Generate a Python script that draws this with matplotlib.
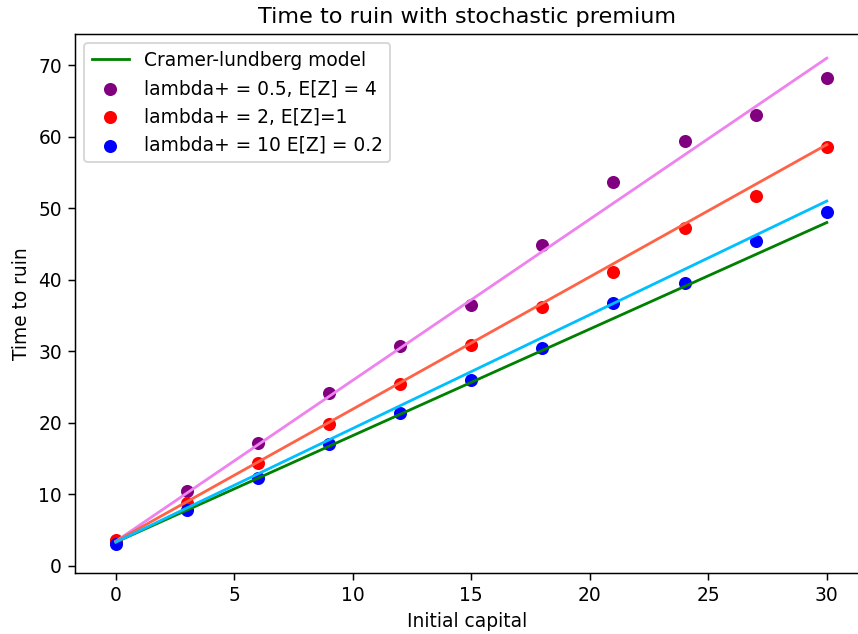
import matplotlib
matplotlib.use("Agg")
import matplotlib.pyplot as plt
import numpy as np

# initial capital grid
capital = [0, 3, 6, 9, 12, 15, 18, 21, 24, 27, 30]

# simulated time to ruin
ruin_05 = [3.5, 10.5, 17.2, 24.2, 30.8, 36.5, 44.9, 53.6, 59.4, 63.1, 68.2]
ruin_2 = [3.6, 8.8, 14.3, 19.8, 25.4, 30.9, 36.2, 41.1, 47.2, 51.7, 58.5]
ruin_10 = [3.0, 7.8, 12.3, 17.0, 21.4, 26.0, 30.5, 36.8, 39.6, 45.4, 49.5]

# fitted lines: (intercept, slope)
cramer_fit = (3.3, 1.49)
fit_10 = (3.3, 1.59)
fit_2 = (3.4, 1.85)
fit_05 = (3.4, 2.253)


def line(fit, x):
    return fit[0] + fit[1] * np.asarray(x, dtype=float)


fig = plt.figure(figsize=(858 / 134, 634 / 134), dpi=134)
ax = fig.add_axes([0.0874, 0.0962, 0.9149, 0.8502])

ax.plot(capital, line(cramer_fit, capital), color='green', label='Cramer-lundberg model')
ax.plot(capital, line(fit_05, capital), color='violet')
ax.plot(capital, line(fit_2, capital), color='tomato')
ax.plot(capital, line(fit_10, capital), color='deepskyblue')

ax.scatter(capital, ruin_05, color='purple', label='lambda+ = 0.5, E[Z] = 4')
ax.scatter(capital, ruin_2, color='red', label='lambda+ = 2, E[Z]=1')
ax.scatter(capital, ruin_10, color='blue', label='lambda+ = 10 E[Z] = 0.2')

ax.set_xlim(-1.72, 31.4)
ax.set_ylim(-1.02, 74.37)
ax.set_xlabel('Initial capital')
ax.set_ylabel('Time to ruin')
ax.set_title('Time to ruin with stochastic premium')
ax.legend(loc='upper left')

fig.savefig('out.png', dpi=134)
plt.close(fig)
